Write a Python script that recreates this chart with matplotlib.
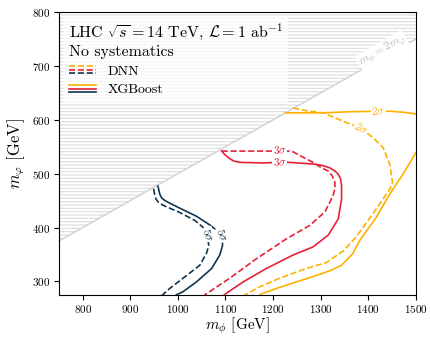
import numpy as np
import matplotlib
matplotlib.use("Agg")
import matplotlib.pyplot as plt
from matplotlib.lines import Line2D
from matplotlib.legend_handler import HandlerBase

plt.rcParams['font.family'] = 'serif'
plt.rcParams['font.serif'] = ['cmr10']
plt.rcParams['mathtext.fontset'] = 'cm'
plt.rcParams['axes.unicode_minus'] = False
plt.rcParams['axes.formatter.use_mathtext'] = True
plt.rcParams['hatch.linewidth'] = 0.8

# colours per significance level
c2 = '#ffb000'
c3 = '#e8203a'
c5 = '#10374f'

# contour lines (m_phi, m_varphi) in GeV
# 5 sigma
xgb5_x = [958, 962, 966, 973, 988, 1004, 1039, 1067, 1085, 1092, 1094, 1088, 1071, 1039, 1011, 997, 990]
xgb5_y = [477, 462, 455, 450, 443, 436, 421, 405, 392, 385, 367, 349, 324, 299, 281, 275, 271]
dnn5_x = [949, 951, 954, 960, 970, 1004, 1036, 1052, 1060, 1065, 1060, 1046, 1011, 983, 968, 962]
dnn5_y = [472, 462, 453, 446, 441, 428, 413, 401, 390, 367, 352, 330, 306, 287, 275, 271]
# 3 sigma
xgb3_x = [1092, 1098, 1106, 1116, 1130, 1179, 1214, 1235, 1284, 1305, 1319, 1330, 1337, 1342, 1344,
          1344, 1337, 1316, 1284, 1242, 1186, 1137, 1102, 1096]
xgb3_y = [542, 536, 530, 524, 521, 520, 521, 521, 518, 515, 511, 505, 499, 490, 478,
          453, 416, 386, 364, 349, 324, 299, 278, 274]
dnn3_x = [1092, 1130, 1214, 1239, 1262, 1284, 1302, 1316, 1325, 1330, 1330, 1326, 1309, 1277,
          1228, 1165, 1109, 1060, 1054]
dnn3_y = [542, 542, 542, 542, 531, 521, 511, 505, 495, 484, 472, 459, 429, 404,
          379, 342, 306, 277, 273]
# 2 sigma
xgb2_x = [1226, 1305, 1360, 1421, 1445, 1475, 1500]
xgb2_y = [613, 613, 615, 616, 616, 614, 611]
xgb2b_x = [1500, 1473, 1445, 1417, 1382, 1368, 1344, 1320, 1298, 1256, 1235, 1214, 1176, 1170]
xgb2b_y = [539, 499, 462, 419, 376, 352, 330, 320, 313, 301, 295, 289, 277, 273]
dnn2_x = [1242, 1270, 1305, 1354, 1385, 1410, 1431, 1445, 1451, 1446, 1438, 1410, 1375, 1347,
          1312, 1270, 1214, 1172, 1141, 1135]
dnn2_y = [622, 617, 613, 595, 584, 567, 549, 518, 484, 472, 462, 426, 383, 356,
          335, 324, 306, 290, 275, 272]

# contour labels: x, y, text, colour, rotation
labels = [
    (1092, 386, r'$5\sigma$', c5, -72),
    (1062, 387, r'$5\sigma$', c5, -72),
    (1214, 521, r'$3\sigma$', c3, 0),
    (1214, 544, r'$3\sigma$', c3, 0),
    (1421, 616, r'$2\sigma$', c2, 0),
    (1385, 584, r'$2\sigma$', c2, -35),
]

xlim = (750, 1500)
ylim = (275, 800)


class HandlerStack(HandlerBase):
    # draws the lines of a tuple stacked on top of each other
    def create_artists(self, legend, orig_handle, xdescent, ydescent,
                       width, height, fontsize, trans):
        arts = []
        n = len(orig_handle)
        for i, h in enumerate(orig_handle):
            y = height * (0.85 - 0.7 * i / (n - 1)) - ydescent
            ln = Line2D([-xdescent, -xdescent + width], [y, y],
                        color=h.get_color(), linestyle=h.get_linestyle(),
                        linewidth=h.get_linewidth())
            ln.set_transform(trans)
            arts.append(ln)
        return arts


fig = plt.figure(figsize=(4.3, 3.37), dpi=100)
ax = fig.add_axes([0.137, 0.125, 0.83, 0.839])

xd = np.array(xlim)
ax.fill_between(xd, xd / 2, ylim[1], facecolor='none', edgecolor='#dcdcdc',
                hatch='-----', linewidth=0)
ax.plot(xd, xd / 2, color='#d0d0d0', lw=1)
ax.text(1430, 728, r'$m_\phi = 2m_\varphi$', color='#bbbbbb', fontsize=8.5,
        rotation=29.7, ha='center', va='center',
        bbox=dict(facecolor='white', edgecolor='none', pad=0.5))

lw = 1.2
ax.plot(xgb5_x, xgb5_y, color=c5, lw=lw)
ax.plot(dnn5_x, dnn5_y, color=c5, lw=lw, ls='--')
ax.plot(xgb3_x, xgb3_y, color=c3, lw=lw)
ax.plot(dnn3_x, dnn3_y, color=c3, lw=lw, ls='--')
ax.plot(xgb2_x, xgb2_y, color=c2, lw=lw)
ax.plot(xgb2b_x, xgb2b_y, color=c2, lw=lw)
ax.plot(dnn2_x, dnn2_y, color=c2, lw=lw, ls='--')

for x, y, t, c, r in labels:
    ax.text(x, y, t, color=c, fontsize=8, rotation=r, ha='center', va='center',
            bbox=dict(facecolor='white', edgecolor='none', pad=0.3))

ax.set_xlim(*xlim)
ax.set_ylim(*ylim)
ax.set_xticks([800, 900, 1000, 1100, 1200, 1300, 1400, 1500])
ax.set_yticks([300, 400, 500, 600, 700, 800])
ax.tick_params(labelsize=8, pad=2.5)
ax.set_xlabel(r'$m_\phi$ [GeV]', fontsize=11, labelpad=0)
ax.set_ylabel(r'$m_\varphi$ [GeV]', fontsize=12, labelpad=4)

dnn_h = tuple(Line2D([], [], color=c, ls='--', lw=lw) for c in (c2, c3, c5))
xgb_h = tuple(Line2D([], [], color=c, ls='-', lw=lw) for c in (c2, c3, c5))
leg = ax.legend([dnn_h, xgb_h], ['DNN', 'XGBoost'],
                handler_map={tuple: HandlerStack()},
                title='LHC $\\sqrt{s}=14$ TeV, $\\mathcal{L}=1$ ab$^{-1}$\nNo systematics',
                loc='upper left', alignment='left', fontsize=10, title_fontsize=11.5,
                frameon=True, framealpha=0.7, edgecolor='none', fancybox=False,
                handlelength=2.0, handleheight=0.7, labelspacing=0.45,
                borderaxespad=0.3, borderpad=0.4)

fig.savefig('out.png', dpi=100)
